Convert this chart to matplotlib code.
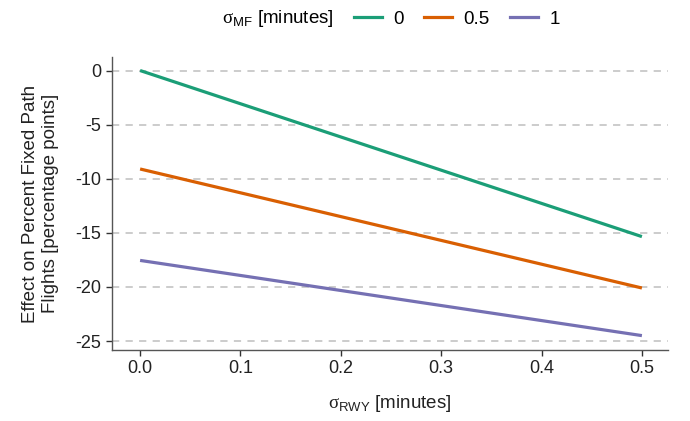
import matplotlib
matplotlib.use("Agg")
import matplotlib.pyplot as plt
from matplotlib.lines import Line2D
from matplotlib.offsetbox import HPacker

plt.rcParams['font.family'] = ['Liberation Sans', 'DejaVu Sans']
plt.rcParams['mathtext.fontset'] = 'custom'
plt.rcParams['mathtext.rm'] = 'Liberation Sans'
plt.rcParams['mathtext.sf'] = 'Liberation Serif'

x_vals = [0.0, 0.5]
series_labels = ['0', '0.5', '1']
series_values = [
    [0.0, -15.35],
    [-9.1, -20.1],
    [-17.55, -24.5],
]
colors = ['#1b9e77', '#d95f02', '#7570b3']
yticks = [0, -5, -10, -15, -20, -25]
xticks = [0.0, 0.1, 0.2, 0.3, 0.4, 0.5]

fig = plt.figure(figsize=(6.9, 4.21), dpi=100)
ax = fig.add_axes([112/690, 1-350/421, (668-112)/690, (350-57)/421])

for yv in yticks:
    ax.axhline(yv, color='#c8c8c8', lw=1.3, ls=(0, (4, 3.5)), zorder=0)

for lab, vals, c in zip(series_labels, series_values, colors):
    ax.plot(x_vals, vals, color=c, lw=2.3, label=lab, solid_capstyle='butt')

ax.set_xlim(-0.028, 0.526)
ax.set_ylim(-25.83, 1.25)
ax.set_yticks(yticks)
ax.set_yticklabels([str(v) for v in yticks])
ax.set_xticks(xticks)
ax.set_xticklabels([f'{v:.1f}' for v in xticks])
for s in ['top', 'right']:
    ax.spines[s].set_visible(False)
for s in ['left', 'bottom']:
    ax.spines[s].set_color('#555555')
    ax.spines[s].set_linewidth(1.0)
ax.tick_params(colors='#333333', labelsize=13, length=4, width=1, labelcolor='#222222')

ax.set_xlabel(r'$\mathsf{\sigma}_{\mathrm{RWY}}$ [minutes]', fontsize=13.5, color='#222222', labelpad=11)
ax.set_ylabel('Effect on Percent Fixed Path\nFlights [percentage points]', fontsize=13.5,
              color='#222222', labelpad=12)

handles = [Line2D([0], [0], color=c, lw=2.3) for c in colors]
leg = fig.legend(handles, series_labels, loc='upper center', bbox_to_anchor=(0.567, 1.02),
                 ncol=3, frameon=False, fontsize=13.5, handlelength=1.5, handletextpad=0.6,
                 columnspacing=1.1, title=r'$\mathsf{\sigma}_{\mathrm{MF}}$ [minutes]', title_fontsize=13.5)
title_box = leg._legend_title_box
handle_box = leg._legend_handle_box
leg._legend_box._children = [HPacker(pad=0, sep=14, children=[title_box, handle_box], align='center')]

fig.savefig('out.png', dpi=100)
